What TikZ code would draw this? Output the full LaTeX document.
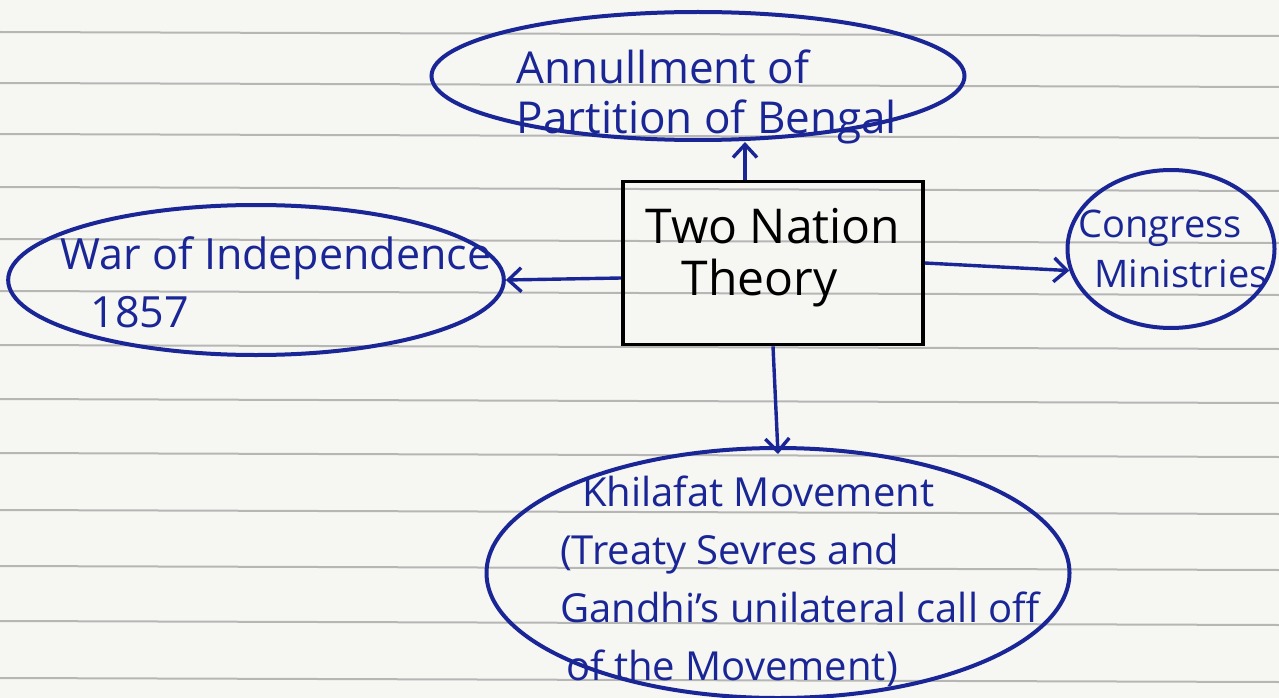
\documentclass[tikz,border=0pt]{standalone}
\usepackage{fontspec}
\setmainfont{Open Sans}
\usetikzlibrary{shapes.geometric,arrows.meta}
\definecolor{ink}{HTML}{1A2696}
\definecolor{rulegray}{HTML}{8C8C8C}
\definecolor{paper}{HTML}{F6F6F3}
\newcommand\nudged[3]{\hspace*{#1}\raisebox{#2}[\height][\depth]{#3}}
\begin{document}
\begin{tikzpicture}[x=1pt,y=-1pt,
  bubble/.style={ellipse, draw=ink, line width=4pt, text=ink, inner sep=-60pt},
  theorybox/.style={rectangle, draw=black, line width=3.6pt, text=black, inner sep=0pt},
  arr/.style={draw=ink, line width=3.4pt, -{Straight Barb[length=13pt,width=24pt,line width=3.4pt]}},
  paperline/.style={draw=rulegray, line width=2pt, opacity=0.6}]
\fill[paper] (0,0) rectangle (1279,698);
\useasboundingbox (0,0) rectangle (1279,698);
\foreach \y in {32,83,134,187,239,291,345,399,453,510,566,621,678}
  \draw[paperline] (0,\y) -- (1279,\y+4);

\node[bubble, minimum width=533pt, minimum height=128pt, font=\fontsize{44}{50}\selectfont]
  (annul) at (698,76) {\nudged{18pt}{-21pt}{\vbox{\hbox{Annullment of}\hbox{Partition of Bengal}}}};
\node[bubble, minimum width=488pt, minimum height=150pt, font=\fontsize{43}{58}\selectfont]
  (war) at (256,280) {\nudged{40pt}{-2pt}{\vbox{\hbox{War of Independence}\hbox{\hspace*{30pt}1857}}}};
\node[theorybox, minimum width=300pt, minimum height=163pt, font=\fontsize{48}{52}\selectfont]
  (tnt) at (773,263) {\nudged{0pt}{5pt}{\vbox{\hbox{Two Nation}\hbox{\hspace*{36pt}Theory}}}};
\node[bubble, minimum width=207pt, minimum height=158pt, font=\fontsize{38}{50}\selectfont]
  (cong) at (1171,249) {\nudged{4pt}{0pt}{\vbox{\hbox{Congress}\hbox{\hspace*{16pt}Ministries}}}};
\node[bubble, minimum width=583pt, minimum height=250pt, font=\fontsize{40}{58}\selectfont]
  (khil) at (778,573) {\nudged{44pt}{-8pt}{\vbox{\hbox{\hspace*{22pt}Khilafat Movement}\hbox{(Treaty Sevres and}\hbox{Gandhi's unilateral call off}\hbox{\hspace*{6pt}of the Movement)}}}};

\draw[arr] ([xshift=-28pt]tnt.north) -- ([xshift=-28pt]tnt.north |- annul.south);
\draw[arr] ([yshift=-15pt]tnt.west) -- (war.east);
\draw[arr] (tnt.east) -- (cong.192);
\draw[arr] (tnt.south) -- ([yshift=-8pt]khil.north);
\end{tikzpicture}
\end{document}
